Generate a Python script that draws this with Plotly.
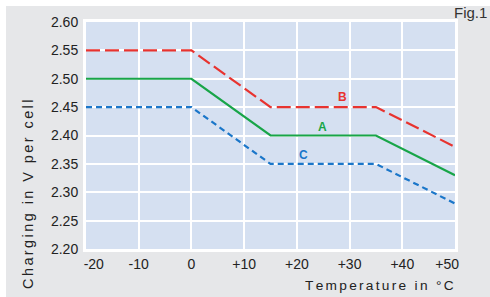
import plotly.graph_objects as go

temps = [-20, 0, 15, 35, 50]
series_a = [2.50, 2.50, 2.40, 2.40, 2.33]
series_b = [2.55, 2.55, 2.45, 2.45, 2.38]
series_c = [2.45, 2.45, 2.35, 2.35, 2.28]

NB = "\u00a0" * 4
x_ticks = [-20, -10, 0, 10, 20, 30, 40, 50]
x_tick_labels = [NB + "-20", "-10", "0", "+10", "+20", "+30", "+40", "+50" + NB]
y_ticks = [2.20, 2.25, 2.30, 2.35, 2.40, 2.45, 2.50, 2.55, 2.60]
y_tick_labels = ["2.20", "2.25", "2.30", "2.35", "2.40", "2.45", "2.50", "2.55", "2.60"]

label_names = ["B", "A", "C"]
label_x = [28.6, 24.8, 21.3]
label_y = [2.467, 2.415, 2.366]

RED = "#e8332f"
GREEN = "#18a548"
BLUE = "#1a76c9"
FONT = "Liberation Sans, Arial, sans-serif"

def spaced(s):
    return "\u200a\u200a".join(s)

fig = go.Figure()
fig.add_trace(go.Scatter(x=temps, y=series_a, mode="lines",
                         line=dict(color=GREEN, width=2.2), showlegend=False))
fig.add_trace(go.Scatter(x=temps, y=series_b, mode="lines",
                         line=dict(color=RED, width=2.2, dash="14px,5px"), showlegend=False))
fig.add_trace(go.Scatter(x=temps, y=series_c, mode="lines",
                         line=dict(color=BLUE, width=2.2, dash="6px,4px"), showlegend=False))

for name, lx, ly, col in zip(label_names, label_x, label_y, [RED, GREEN, BLUE]):
    fig.add_annotation(x=lx, y=ly, text="<b>%s</b>" % name, showarrow=False,
                       xanchor="center", yanchor="middle",
                       font=dict(family=FONT, size=12, color=col))

W, H = 490, 297
L, R, T, B = 86, 35, 22, 48
pw, ph = W - L - R, H - T - B

def px_x(p):
    return (p - L) / pw

def px_y(p):
    return (H - B - p) / ph

# grey panel (leaving a white strip at top and left), then the blue plot area on top
fig.add_shape(type="rect", xref="paper", yref="paper",
              x0=px_x(6), x1=px_x(W + 5), y0=px_y(H + 5), y1=px_y(6),
              fillcolor="#e6e7e9", line=dict(width=0), layer="below")
fig.add_shape(type="rect", xref="x domain", yref="y domain",
              x0=0, x1=1, y0=0, y1=1,
              fillcolor="#d5e0f1", line=dict(width=0), layer="below")

fig.add_annotation(xref="paper", yref="paper", x=px_x(28), y=px_y(195),
                   xanchor="center", yanchor="middle",
                   text=spaced("Charging in V per cell"), textangle=-90, showarrow=False,
                   font=dict(family=FONT, size=14.5, color="#222222"))
fig.add_annotation(xref="paper", yref="paper", x=px_x(456), y=px_y(285),
                   xanchor="right", yanchor="middle",
                   text=spaced("Temperature in °C"), showarrow=False,
                   font=dict(family=FONT, size=13.7, color="#222222"))
fig.add_annotation(xref="paper", yref="paper", x=px_x(489), y=px_y(12),
                   xanchor="right", yanchor="middle",
                   text="Fig.1", showarrow=False,
                   font=dict(family=FONT, size=15, color="#333333"))

fig.update_xaxes(range=[-20, 50], tickvals=x_ticks, ticktext=x_tick_labels,
                 showgrid=True, gridcolor="white", gridwidth=1.5, zeroline=False,
                 showline=True, linecolor="white", linewidth=3, mirror=True,
                 ticks="",
                 tickfont=dict(family=FONT, size=14, color="#222222"))
fig.update_yaxes(range=[2.20, 2.60], tickvals=y_ticks, ticktext=y_tick_labels,
                 showgrid=True, gridcolor="white", gridwidth=1.5, zeroline=False,
                 showline=True, linecolor="white", linewidth=3, mirror=True,
                 ticks="outside", ticklen=2, tickcolor="rgba(0,0,0,0)",
                 tickfont=dict(family=FONT, size=14, color="#222222"))

fig.update_layout(width=W, height=H, margin=dict(l=L, r=R, t=T, b=B),
                  paper_bgcolor="white", plot_bgcolor="#d5e0f1")

fig.write_html("out.html", config={"displayModeBar": False},
               post_script="document.body.style.margin='0';document.body.style.overflow='hidden';")
